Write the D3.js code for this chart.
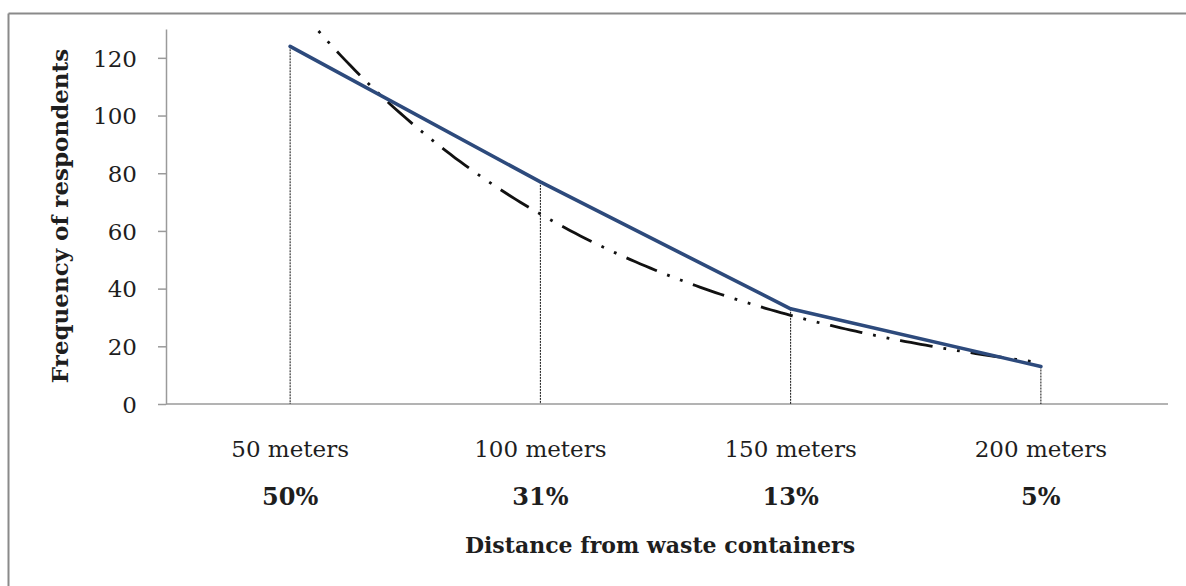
<!DOCTYPE html>
<html>
<head>
<meta charset="utf-8">
<script src="https://cdn.jsdelivr.net/npm/d3@7"></script>
<style>
  html, body { margin: 0; padding: 0; background: #fff; }
  svg { display: block; }
</style>
</head>
<body>
<svg id="chart" width="1186" height="586"></svg>
<script>
// ---- data ----
const categories = ["50 meters", "100 meters", "150 meters", "200 meters"];
const frequencies = [124, 77, 33, 13];
const percentLabels = ["50%", "31%", "13%", "5%"];
const yTicks = [0, 20, 40, 60, 80, 100, 120];
const yMax = 130;
const xTitle = "Distance from waste containers";
const yTitle = "Frequency of respondents";

// ---- layout ----
const W = 1186, H = 586;
const plot = { left: 166, right: 1166, top: 29, bottom: 404 };
const svg = d3.select("#chart");
const serif = "'DejaVu Serif', serif";

// outer frame (top and left edges visible)
svg.append("line").attr("x1", 8.5).attr("x2", W).attr("y1", 13.5).attr("y2", 13.5)
  .attr("stroke", "#8a8a8a").attr("stroke-width", 2);
svg.append("line").attr("x1", 8.5).attr("x2", 8.5).attr("y1", 13.5).attr("y2", H)
  .attr("stroke", "#8a8a8a").attr("stroke-width", 2);

const x = d3.scaleBand().domain(categories).range([plot.left - 1, plot.right]).padding(0);
const y = d3.scaleLinear().domain([0, yMax]).range([plot.bottom, plot.top]);
const cx = c => x(c) + x.bandwidth() / 2;

// clip for plot area
svg.append("defs").append("clipPath").attr("id", "plotclip")
  .append("rect").attr("x", plot.left).attr("y", y(yMax))
  .attr("width", plot.right - plot.left + 2).attr("height", y(0) - y(yMax));

// y axis
const yAxis = d3.axisLeft(y).tickValues(yTicks).tickSize(8).tickSizeOuter(0).tickPadding(21);
const gy = svg.append("g").attr("transform", `translate(${plot.left},0)`).call(yAxis);
gy.select(".domain").attr("stroke", "#9a9a9a").attr("stroke-width", 1.5);
gy.selectAll(".tick line").attr("stroke", "#9a9a9a").attr("stroke-width", 1.5);
gy.selectAll(".tick text").attr("font-family", serif).attr("font-size", 23)
  .attr("fill", "#1e1e1e").attr("dy", "0.36em");

// x axis line
svg.append("line").attr("x1", plot.left).attr("x2", plot.right + 2)
  .attr("y1", y(0)).attr("y2", y(0)).attr("stroke", "#9a9a9a").attr("stroke-width", 1.5);

// drop lines
svg.append("g").selectAll("line").data(categories).join("line")
  .attr("x1", d => cx(d)).attr("x2", d => cx(d))
  .attr("y1", (d, i) => y(frequencies[i])).attr("y2", y(0))
  .attr("stroke", "#111").attr("stroke-width", 1).attr("stroke-dasharray", "2,1");

// exponential trend line fitted to the data (least squares on ln y)
const xs = frequencies.map((d, i) => i + 1);
const ls = frequencies.map(d => Math.log(d));
const mx = d3.mean(xs), ml = d3.mean(ls);
const slope = d3.sum(xs, (v, i) => (v - mx) * (ls[i] - ml)) / d3.sum(xs, v => (v - mx) * (v - mx));
const icpt = ml - slope * mx;
const tPos = t => cx(categories[0]) + (t - 1) * x.step();
const trendPts = d3.range(1, 4.0001, 0.02).map(t => [tPos(t), y(Math.exp(icpt + slope * t))]);
svg.append("path").attr("clip-path", "url(#plotclip)")
  .attr("d", d3.line()(trendPts))
  .attr("fill", "none").attr("stroke", "#111").attr("stroke-width", 2.8)
  .attr("stroke-dasharray", "33,11,2.8,11,2.8,11");

// data line
svg.append("path")
  .attr("d", d3.line()(categories.map((c, i) => [cx(c), y(frequencies[i])])))
  .attr("fill", "none").attr("stroke", "#2d4a7c").attr("stroke-width", 3.6)
  .attr("stroke-linejoin", "round").attr("stroke-linecap", "round");

// category labels
svg.append("g").selectAll("text").data(categories).join("text")
  .attr("x", d => cx(d)).attr("y", 457).attr("text-anchor", "middle")
  .attr("font-family", serif).attr("font-size", 23).attr("fill", "#1e1e1e")
  .text(d => d);

// percentage labels
svg.append("g").selectAll("text").data(percentLabels).join("text")
  .attr("x", (d, i) => cx(categories[i])).attr("y", 505).attr("text-anchor", "middle")
  .attr("font-family", serif).attr("font-size", 24).attr("font-weight", "bold").attr("fill", "#1e1e1e")
  .text(d => d);

// axis titles
svg.append("text").attr("x", 660).attr("y", 553).attr("text-anchor", "middle")
  .attr("font-family", serif).attr("font-size", 22).attr("font-weight", "bold").attr("fill", "#1e1e1e")
  .text(xTitle);
svg.append("text").attr("transform", "translate(68,216) rotate(-90)").attr("text-anchor", "middle")
  .attr("font-family", serif).attr("font-size", 23).attr("font-weight", "bold").attr("fill", "#1e1e1e")
  .text(yTitle);
</script>
</body>
</html>
